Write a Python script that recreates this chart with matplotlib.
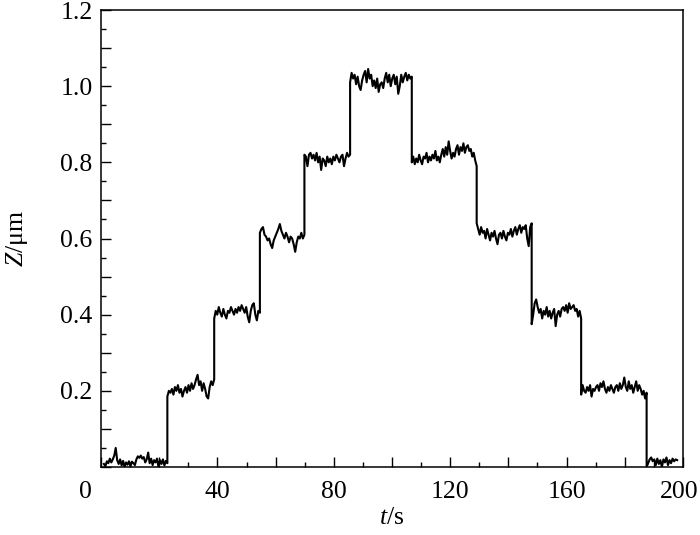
import numpy as np
import matplotlib
matplotlib.use("Agg")
import matplotlib.pyplot as plt
from matplotlib.ticker import MultipleLocator, FuncFormatter

plt.rcParams["font.family"] = ["Liberation Serif", "DejaVu Serif"]
plt.rcParams["mathtext.fontset"] = "custom"
plt.rcParams["mathtext.rm"] = "Liberation Serif"
plt.rcParams["mathtext.it"] = "Liberation Serif:italic"

# step edges (s)
edges = [1.0, 22.8, 38.9, 54.6, 69.9, 85.6, 106.8, 129.1, 148.0, 165.0, 187.5, 198.0]

# plateau readings (um), evenly spaced between the edges above
p0 = [0.008, 0.002, 0.015, 0.01, 0.022, 0.012, 0.02, 0.03, 0.05, 0.018, 0.008,
      0.02, 0.004, 0.016, 0.0, 0.012, 0.006, 0.015, 0.002, 0.014, 0.01, 0.005,
      0.02, 0.028, 0.024, 0.03, 0.022, 0.026, 0.012, 0.02, 0.038, 0.01, 0.022,
      0.005, 0.018, 0.012, 0.022, 0.0, 0.018, 0.008, 0.02, 0.004, 0.016, 0.01]
p1 = [0.185, 0.2, 0.195, 0.205, 0.19, 0.21, 0.2, 0.215, 0.195, 0.205, 0.185,
      0.2, 0.21, 0.195, 0.215, 0.2, 0.22, 0.205, 0.215, 0.23, 0.242, 0.215,
      0.225, 0.2, 0.22, 0.205, 0.185, 0.18, 0.21, 0.225, 0.215, 0.23]
p2 = [0.39, 0.41, 0.4, 0.42, 0.405, 0.395, 0.415, 0.4, 0.39, 0.41, 0.405,
      0.42, 0.41, 0.4, 0.415, 0.405, 0.42, 0.41, 0.425, 0.415, 0.405, 0.42,
      0.395, 0.38, 0.41, 0.425, 0.43, 0.4, 0.385, 0.41, 0.405]
p3 = [0.615, 0.625, 0.63, 0.61, 0.605, 0.595, 0.6, 0.585, 0.575, 0.595, 0.605,
      0.615, 0.625, 0.638, 0.62, 0.61, 0.6, 0.615, 0.605, 0.59, 0.605, 0.6,
      0.585, 0.565, 0.59, 0.605, 0.6, 0.615, 0.6, 0.61]
p4 = [0.82, 0.815, 0.79, 0.82, 0.825, 0.81, 0.82, 0.805, 0.825, 0.8, 0.815,
      0.78, 0.81, 0.805, 0.79, 0.815, 0.8, 0.81, 0.795, 0.815, 0.805, 0.82,
      0.81, 0.8, 0.815, 0.82, 0.79, 0.81, 0.825, 0.815, 0.82]
p5 = [1.01, 1.035, 1.02, 1.03, 1.005, 1.025, 1.0, 0.99, 1.015, 1.03, 1.04,
      1.01, 1.045, 1.02, 1.03, 1.0, 1.015, 0.995, 1.02, 0.985, 1.005, 1.01,
      0.995, 1.02, 1.035, 1.01, 1.03, 1.0, 1.02, 1.03, 1.005, 1.025, 0.98,
      1.0, 1.03, 1.01, 1.025, 1.035, 1.015, 1.03, 1.02, 1.025]
p6 = [0.8, 0.815, 0.795, 0.81, 0.8, 0.82, 0.805, 0.795, 0.815, 0.81, 0.825,
      0.8, 0.815, 0.805, 0.82, 0.81, 0.83, 0.805, 0.815, 0.8, 0.82, 0.835,
      0.815, 0.84, 0.82, 0.855, 0.83, 0.81, 0.825, 0.815, 0.835, 0.845, 0.82,
      0.84, 0.83, 0.85, 0.825, 0.84, 0.845, 0.83, 0.835, 0.815, 0.825, 0.805,
      0.79]
p7 = [0.64, 0.625, 0.61, 0.63, 0.615, 0.62, 0.6, 0.625, 0.61, 0.595, 0.615,
      0.605, 0.62, 0.6, 0.585, 0.61, 0.615, 0.6, 0.62, 0.605, 0.595, 0.615,
      0.61, 0.625, 0.605, 0.62, 0.63, 0.61, 0.625, 0.635, 0.615, 0.63, 0.625,
      0.635, 0.6, 0.58, 0.63, 0.64]
p8 = [0.375, 0.4, 0.43, 0.44, 0.42, 0.405, 0.415, 0.39, 0.41, 0.4, 0.42,
      0.395, 0.41, 0.39, 0.405, 0.415, 0.37, 0.4, 0.41, 0.395, 0.415, 0.42,
      0.41, 0.425, 0.405, 0.43, 0.415, 0.42, 0.425, 0.41, 0.415, 0.395, 0.41,
      0.39]
p9 = [0.19, 0.215, 0.2, 0.195, 0.21, 0.2, 0.215, 0.185, 0.205, 0.2, 0.21,
      0.215, 0.2, 0.22, 0.21, 0.225, 0.205, 0.195, 0.21, 0.2, 0.215, 0.205,
      0.195, 0.21, 0.215, 0.2, 0.22, 0.205, 0.215, 0.235, 0.21, 0.2, 0.225,
      0.205, 0.215, 0.195, 0.21, 0.225, 0.2, 0.215, 0.205, 0.19, 0.2, 0.18,
      0.195]
p10 = [0.0, 0.01, 0.02, 0.025, 0.015, 0.02, 0.005, 0.022, 0.008, 0.018, 0.0,
       0.02, 0.012, 0.025, 0.005, 0.018, 0.01, 0.022, 0.015, 0.02, 0.018]

plateaus = [p0, p1, p2, p3, p4, p5, p6, p7, p8, p9, p10]

t_all, z_all = [], []
for i, vals in enumerate(plateaus):
    t_all.append(np.linspace(edges[i], edges[i + 1], len(vals)))
    z_all.append(np.array(vals))
t = np.concatenate(t_all)
z = np.concatenate(z_all)

fs = 18.5

fig = plt.figure(figsize=(7.0, 5.35), dpi=100)
ax = fig.add_axes([0.1443, 0.1271, 0.8314, 0.8542])

ax.plot(t, z, color="black", lw=1.5)

ax.set_xlim(0, 200)
ax.set_ylim(0, 1.2)

ax.xaxis.set_major_locator(MultipleLocator(20))
ax.xaxis.set_minor_locator(MultipleLocator(10))
ax.yaxis.set_major_locator(MultipleLocator(0.1))
ax.yaxis.set_minor_locator(MultipleLocator(0.05))

# labels only every 40 s / 0.2 um; origin "0" and "200" drawn separately
ax.xaxis.set_major_formatter(FuncFormatter(
    lambda v, p: f"{v:.0f}" if (round(v) % 40 == 0 and 0 < v < 199) else ""))
ax.yaxis.set_major_formatter(FuncFormatter(
    lambda v, p: f"{v:.1f}" if (round(v * 10) % 2 == 0 and v > 0.01) else ""))

ax.tick_params(which="both", direction="in", top=False, right=False,
               labelsize=fs, width=1.0)
ax.tick_params(axis="x", which="major", length=7.5, pad=10)
ax.tick_params(axis="y", which="major", length=7.5, pad=6)
ax.tick_params(which="minor", length=3.5)
for s in ax.spines.values():
    s.set_linewidth(1.1)

ax.annotate("0", xy=(0, 0), xycoords="axes fraction", xytext=(-11.5, -18),
            textcoords="offset points", ha="center", va="center", fontsize=fs)
ax.annotate("200", xy=(1, 0), xycoords="axes fraction", xytext=(-2.5, -10),
            textcoords="offset points", ha="center", va="top", fontsize=fs)

ax.set_xlabel(r"$t$/s", fontsize=fs, labelpad=3)
ax.set_ylabel(r"$Z$/μm", fontsize=fs, labelpad=22)

fig.savefig("out.png", dpi=100)
